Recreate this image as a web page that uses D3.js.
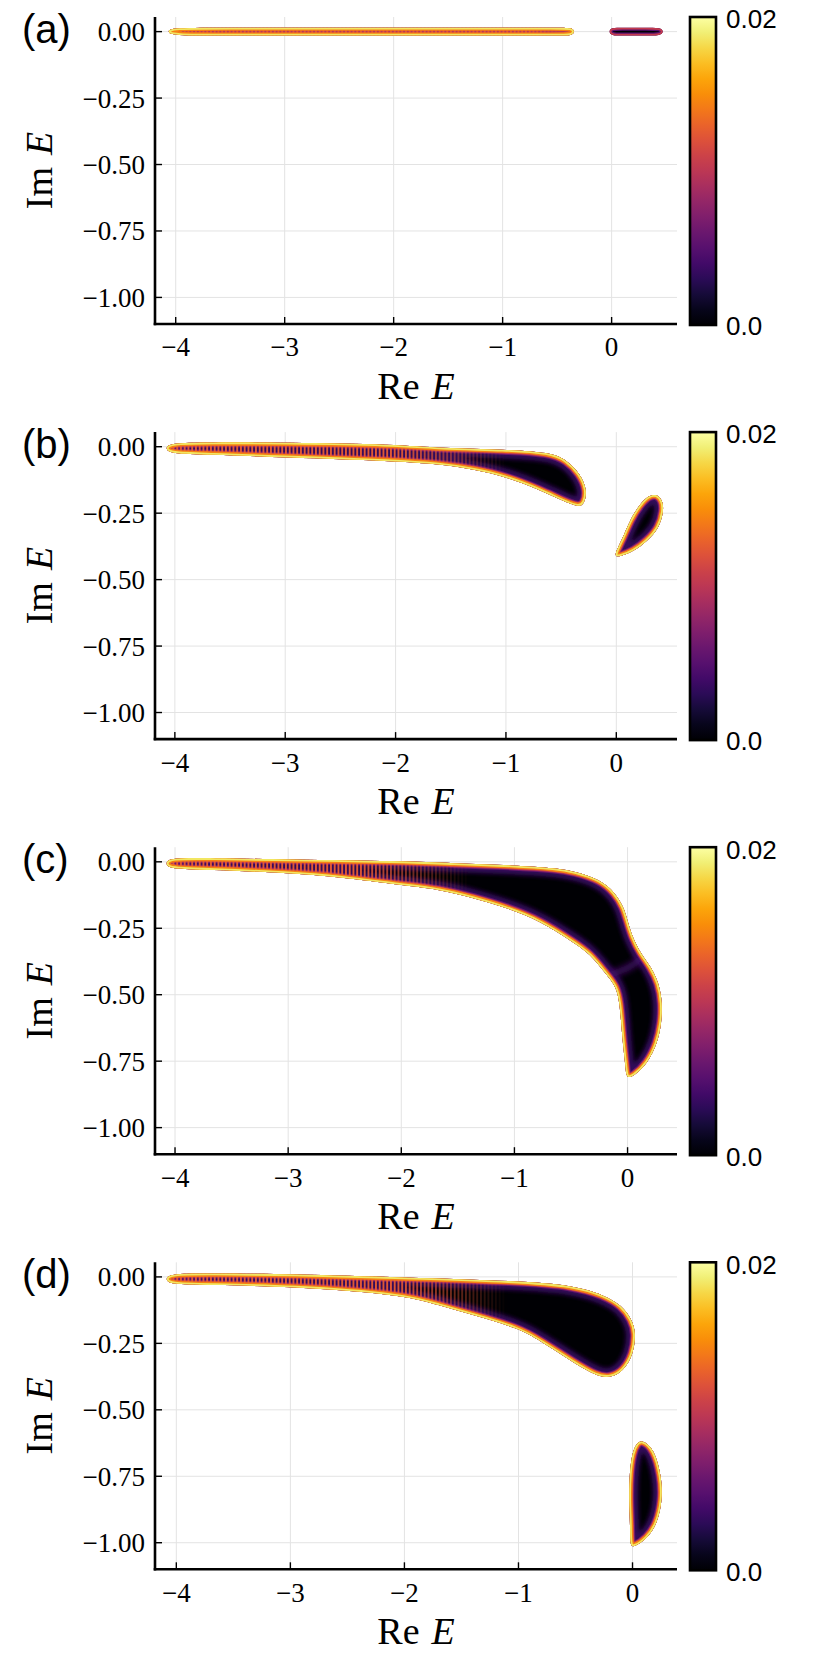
<!DOCTYPE html>
<html>
<head>
<meta charset="utf-8">
<script src="https://cdn.jsdelivr.net/npm/d3@7"></script>
<style>
  body { margin: 0; background: #fff; }
  text { fill: #000; }
</style>
</head>
<body>
<svg id="chart" width="830" height="1661"></svg>
<script>
// Data

const panelNames = ["(a)", "(b)", "(c)", "(d)"];

// Re E / Im E axis limits of every panel
const reLimits = [[-4.19, 0.6], [-4.18, 0.55], [-4.177, 0.437], [-4.187, 0.39]];
const imLimits = [-1.1, 0.055];

const reTicks = [-4, -3, -2, -1, 0];
const imTicks = [0, -0.25, -0.5, -0.75, -1];

const colorDomain = [0, 0.02];
const colorLabels = ["0.0", "0.02"];

// outlines of the regions (Re, Im), outer edge of the coloured halo
const stripA1 = [[-4.05, 0.015], [-3.5, 0.015], [-3, 0.015], [-2.5, 0.015], [-2, 0.015], [-1.5, 0.015],
  [-1, 0.015], [-0.5, 0.015], [-0.36, 0.015], [-0.34, 0], [-0.36, -0.015], [-0.5, -0.015],
  [-1, -0.015], [-1.5, -0.015], [-2, -0.015], [-2.5, -0.015], [-3, -0.015], [-3.5, -0.015],
  [-4.05, -0.015], [-4.07, 0]];
const stripA2 = [[-0.005, 0.015], [0.1, 0.015], [0.2, 0.015], [0.3, 0.015], [0.455, 0.015], [0.475, 0],
  [0.455, -0.015], [0.3, -0.015], [0.2, -0.015], [0.1, -0.015], [-0.005, -0.015], [-0.025, 0]];

const bandB = [[-4.05, 0.014], [-3.7, 0.017], [-3.0, 0.016], [-2.0, 0.009], [-1.6, -0.005],
  [-1.0, -0.01], [-0.6, -0.021], [-0.45, -0.05], [-0.33, -0.1], [-0.262, -0.163],
  [-0.29, -0.215], [-0.34, -0.228], [-0.48, -0.205], [-0.69, -0.163], [-0.99, -0.114],
  [-1.29, -0.085], [-1.6, -0.066], [-2.0, -0.054], [-3.0, -0.04], [-3.7, -0.029],
  [-4.05, -0.026], [-4.085, -0.006]];
const blobB = [[-0.03, -0.415], [0.052, -0.35], [0.127, -0.272], [0.218, -0.214], [0.293, -0.183],
  [0.369, -0.178], [0.42, -0.203], [0.43, -0.24], [0.39, -0.305], [0.278, -0.356],
  [0.157, -0.394], [0.036, -0.413]];

const bandC = [[-4.05, 0.015], [-3.7, 0.014], [-3.0, 0.009], [-2.0, 0.003], [-1.55, -0.005],
  [-1.0, -0.013], [-0.626, -0.024], [-0.479, -0.035], [-0.24, -0.066], [-0.11, -0.117],
  [-0.035, -0.17], [-0.002, -0.219], [0.042, -0.282], [0.115, -0.344], [0.205, -0.394],
  [0.278, -0.457], [0.308, -0.532], [0.3, -0.607], [0.264, -0.682], [0.175, -0.76],
  [0.051, -0.808], [-0.012, -0.815], [-0.018, -0.77], [-0.042, -0.682], [-0.056, -0.607],
  [-0.071, -0.532], [-0.1, -0.469], [-0.19, -0.423], [-0.335, -0.345], [-0.479, -0.303],
  [-0.774, -0.222], [-1.068, -0.173], [-1.363, -0.136], [-1.658, -0.104], [-2.0, -0.088],
  [-2.54, -0.058], [-3.0, -0.042], [-3.72, -0.029], [-4.05, -0.027], [-4.085, -0.006]];
// darker seam where the two dense regions of (c) meet
const seamC = [[-0.2, -0.43], [-0.08, -0.415], [0.03, -0.395], [0.13, -0.36]];

const bandD = [[-4.06, 0.013], [-3.7, 0.013], [-3.0, 0.011], [-2.0, -0.002], [-1.0, -0.015],
  [-0.518, -0.032], [-0.25, -0.068], [-0.094, -0.107], [-0.005, -0.161], [0.03, -0.211],
  [0.008, -0.29], [-0.08, -0.355], [-0.196, -0.38], [-0.313, -0.374], [-0.518, -0.322],
  [-0.811, -0.24], [-1.0, -0.193], [-1.4, -0.143], [-1.69, -0.108], [-2.0, -0.067],
  [-3.0, -0.036], [-3.73, -0.03], [-4.06, -0.028], [-4.095, -0.008]];
const blobD = [[0.082, -0.612], [0.188, -0.645], [0.254, -0.75], [0.263, -0.837], [0.218, -0.928],
  [0.128, -0.985], [0.008, -1.018], [-0.022, -1.01], [-0.02, -0.938], [-0.032, -0.837],
  [-0.026, -0.737], [-0.002, -0.66], [0.036, -0.626]];

const panelShapes = [[stripA1, stripA2], [bandB, blobB], [bandC], [bandD, blobD]];
// Re range where the separate eigenvalue dots fade out into the dense region
const dotFade = [[-0.75, -0.45], [-2.0, -1.0], [-2.4, -1.4], [-2.1, -1.1]];

// Layout

const plotLeft = 155, plotRight = 677, plotH = 307, firstTop = 17, panelStep = 415.1;
const cbX = 690, cbW = 26;

const svg = d3.select("#chart");
const defs = svg.append("defs");
const inferno = d3.interpolateInferno;
const colorScale = d3.scaleSequential(inferno).domain(colorDomain);

// colorbar gradient
const cbGrad = defs.append("linearGradient").attr("id", "cbgrad")
  .attr("x1", 0).attr("y1", 1).attr("x2", 0).attr("y2", 0);
d3.range(0, 1.0001, 0.05).forEach(t => {
  cbGrad.append("stop").attr("offset", t)
    .attr("stop-color", colorScale(colorDomain[0] + t * (colorDomain[1] - colorDomain[0])));
});

// stripes to break thin bands into single eigenvalue dots
const pat = defs.append("pattern").attr("id", "dots")
  .attr("patternUnits", "userSpaceOnUse").attr("width", 3.75).attr("height", 20);
pat.append("rect").attr("width", 1.9).attr("height", 20).attr("fill", inferno(0.62));

defs.append("filter").attr("id", "soft").attr("x", "-10%").attr("y", "-10%")
  .attr("width", "120%").attr("height", "120%")
  .append("feGaussianBlur").attr("stdDeviation", 2);
defs.append("filter").attr("id", "softer").attr("x", "-20%").attr("y", "-20%")
  .attr("width", "140%").attr("height", "140%")
  .append("feGaussianBlur").attr("stdDeviation", 3);

const serif = "'Liberation Serif', 'Times New Roman', serif";
const sans = "'Liberation Sans', Arial, sans-serif";

panelNames.forEach((name, i) => {
  const top = firstTop + i * panelStep;
  const bottom = top + plotH;
  const x = d3.scaleLinear().domain(reLimits[i]).range([plotLeft, plotRight]);
  const y = d3.scaleLinear().domain(imLimits).range([bottom, top]);
  const g = svg.append("g");

  // grid
  g.selectAll(".gx").data(reTicks).enter().append("line")
    .attr("x1", d => x(d)).attr("x2", d => x(d)).attr("y1", top).attr("y2", bottom)
    .attr("stroke", "#e3e3e3").attr("stroke-width", 1);
  g.selectAll(".gy").data(imTicks).enter().append("line")
    .attr("x1", plotLeft).attr("x2", plotRight).attr("y1", d => y(d)).attr("y2", d => y(d))
    .attr("stroke", "#e3e3e3").attr("stroke-width", 1);

  // mask for the dotted texture
  const fx = dotFade[i];
  const mg = defs.append("linearGradient").attr("id", "fade" + i)
    .attr("gradientUnits", "userSpaceOnUse")
    .attr("x1", x(fx[0])).attr("x2", x(fx[1])).attr("y1", 0).attr("y2", 0);
  mg.append("stop").attr("offset", 0).attr("stop-color", "#fff");
  mg.append("stop").attr("offset", 1).attr("stop-color", "#000");
  defs.append("mask").attr("id", "mask" + i)
    .append("rect").attr("x", plotLeft).attr("y", top).attr("width", plotRight - plotLeft)
    .attr("height", plotH).attr("fill", `url(#fade${i})`);

  const line = d3.line().x(d => x(d[0])).y(d => y(d[1])).curve(d3.curveBasisClosed);
  const open = d3.line().x(d => x(d[0])).y(d => y(d[1])).curve(d3.curveBasis);

  panelShapes[i].forEach((pts, k) => {
    const id = `clip${i}_${k}`;
    const d = line(pts);
    defs.append("clipPath").attr("id", id).append("path").attr("d", d);
    const s = g.append("g").attr("clip-path", `url(#${id})`);
    s.append("path").attr("d", d).attr("fill", inferno(0));
    const ring = (w, c) => s.append("path").attr("d", d).attr("fill", "none")
      .attr("stroke", c).attr("stroke-width", w);
    if (i === 0 && k === 1) {
      ring(6, inferno(0.25));
      ring(3.6, inferno(0.52));
      return;
    }
    ring(18, inferno(0.18)).attr("filter", "url(#soft)").attr("opacity", 0.9);
    if (i === 2) {
      s.append("path").attr("d", open(seamC)).attr("fill", "none")
        .attr("stroke", inferno(0.2)).attr("stroke-width", 6).attr("filter", "url(#softer)");
    }
    ring(10, inferno(0.3));
    ring(8, inferno(0.5));
    s.append("rect").attr("x", plotLeft).attr("y", top)
      .attr("width", plotRight - plotLeft).attr("height", plotH)
      .attr("fill", "url(#dots)").attr("mask", `url(#mask${i})`);
    ring(6.4, inferno(0.72));
    ring(3.6, inferno(0.93));
  });

  // spines and ticks
  g.append("line").attr("x1", plotLeft).attr("x2", plotLeft).attr("y1", top).attr("y2", bottom + 1.2)
    .attr("stroke", "#000").attr("stroke-width", 2.6);
  g.append("line").attr("x1", plotLeft - 1.3).attr("x2", plotRight).attr("y1", bottom).attr("y2", bottom)
    .attr("stroke", "#000").attr("stroke-width", 2.6);
  g.selectAll(".tx").data(reTicks).enter().append("line")
    .attr("x1", d => x(d)).attr("x2", d => x(d)).attr("y1", bottom).attr("y2", bottom - 7)
    .attr("stroke", "#000").attr("stroke-width", 1.4);
  g.selectAll(".ty").data(imTicks).enter().append("line")
    .attr("x1", plotLeft).attr("x2", plotLeft + 7).attr("y1", d => y(d)).attr("y2", d => y(d))
    .attr("stroke", "#000").attr("stroke-width", 1.4);

  // tick labels
  const fx0 = d3.format("d"), fy0 = d3.format(".2f");
  g.selectAll(".lx").data(reTicks).enter().append("text")
    .attr("x", d => x(d)).attr("y", bottom + 23).attr("dy", "0.35em")
    .attr("text-anchor", "middle").style("font-family", serif).style("font-size", "27px")
    .text(d => fx0(d));
  g.selectAll(".ly").data(imTicks).enter().append("text")
    .attr("x", 145).attr("y", d => y(d)).attr("dy", "0.35em")
    .attr("text-anchor", "end").style("font-family", serif).style("font-size", "27px")
    .text(d => fy0(d));

  // axis titles
  const xt = g.append("text").attr("x", (plotLeft + plotRight) / 2).attr("y", bottom + 75)
    .attr("text-anchor", "middle").style("font-family", serif).style("font-size", "38px");
  xt.append("tspan").text("Re");
  xt.append("tspan").attr("dx", 12).style("font-style", "italic").text("E");
  const yt = g.append("text")
    .attr("transform", `translate(52,${(top + bottom) / 2}) rotate(-90)`)
    .attr("text-anchor", "middle").style("font-family", serif).style("font-size", "38px");
  yt.append("tspan").text("Im");
  yt.append("tspan").attr("dx", 12).style("font-style", "italic").text("E");

  // panel letter
  g.append("text").attr("x", 22).attr("y", y(0) + 11).style("font-family", sans)
    .style("font-size", "40px").text(name);

  // colorbar
  g.append("rect").attr("x", cbX).attr("y", top).attr("width", cbW).attr("height", plotH + 1)
    .attr("fill", "url(#cbgrad)").attr("stroke", "#000").attr("stroke-width", 2.6);
  const cy = d3.scaleLinear().domain(colorDomain).range([bottom + 1, top]);
  g.selectAll(".cl").data(colorDomain).enter().append("text")
    .attr("x", 726).attr("y", (d, j) => cy(d) + (j === 0 ? 1 : 2)).attr("dy", "0.36em")
    .style("font-family", sans).style("font-size", "26px")
    .text((d, j) => colorLabels[j]);
});
</script>
</body>
</html>
